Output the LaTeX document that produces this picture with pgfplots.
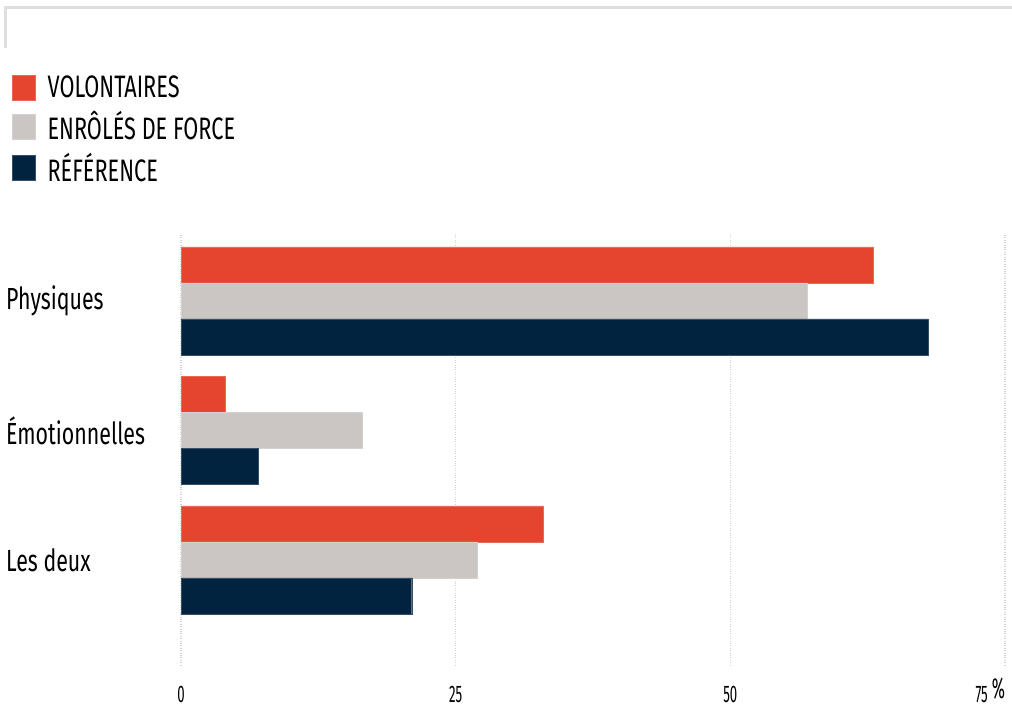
\documentclass[border=0pt]{standalone}
\usepackage{fontspec}
\setmainfont{Fira Sans}[FakeStretch=0.7]
\newfontfamily\tickfont{Fira Sans}[FakeStretch=0.55]
\usepackage{pgfplots}
\pgfplotsset{compat=1.18}
\definecolor{cred}{RGB}{229,69,47}
\definecolor{cgray}{RGB}{203,198,195}
\definecolor{cnavy}{RGB}{1,35,64}
\definecolor{cgrid}{RGB}{210,210,210}
\definecolor{cframe}{RGB}{222,222,222}
\begin{document}
\begin{tikzpicture}
\path[use as bounding box] (0pt,0pt) rectangle (1012pt,712pt);
\draw[cframe, line width=3pt] (5pt,664pt) -- (5pt,704pt) -- (1012pt,704pt);
\begin{axis}[
  at={(181pt,47pt)}, anchor=south west,
  scale only axis, width=824pt, height=432pt,
  xmin=0, xmax=75, ymin=-0.811, ymax=2.525,
  xbar, bar width=36pt,
  axis line style={draw=none},
  major tick length=0pt,
  xtick={0,25,50,75},
  xticklabels={0,25,50,{\llap{75\,\raisebox{5pt}{\fontsize{29}{29}\selectfont\%}}}},
  xticklabel style={font=\tickfont\fontsize{24}{24}\selectfont, anchor=base, yshift=-38pt, inner sep=0pt},
  ytick={0,1,2},
  yticklabels={Les deux, Émotionnelles, Physiques},
  yticklabel style={font=\fontsize{30.5}{31}\selectfont, anchor=west, xshift=-175pt, inner sep=0pt},
  xmajorgrids, grid style={cgrid, dotted, line width=1.3pt},
  legend style={at={(-0.2051,1.368)}, anchor=north west, draw=none, fill=none,
    font=\fontsize{31}{31}\selectfont, inner sep=0pt, row sep=8pt, column sep=10pt},
  legend cell align=left,
  legend image code/.code={\fill[#1] (0pt,-12.5pt) rectangle (23pt,12.5pt);},
]
\addplot[fill=cred, draw=cred!80!white, bar shift=36pt] coordinates {(33,0) (4,1) (63,2)};
\addplot[fill=cgray, draw=cgray!80!white, bar shift=0pt] coordinates {(27,0) (16.5,1) (57,2)};
\addplot[fill=cnavy, draw=cnavy!80!white, bar shift=-36pt] coordinates {(21,0) (7,1) (68,2)};
\legend{VOLONTAIRES, ENRÔLÉS DE FORCE, RÉFÉRENCE}
\end{axis}
\end{tikzpicture}
\end{document}
